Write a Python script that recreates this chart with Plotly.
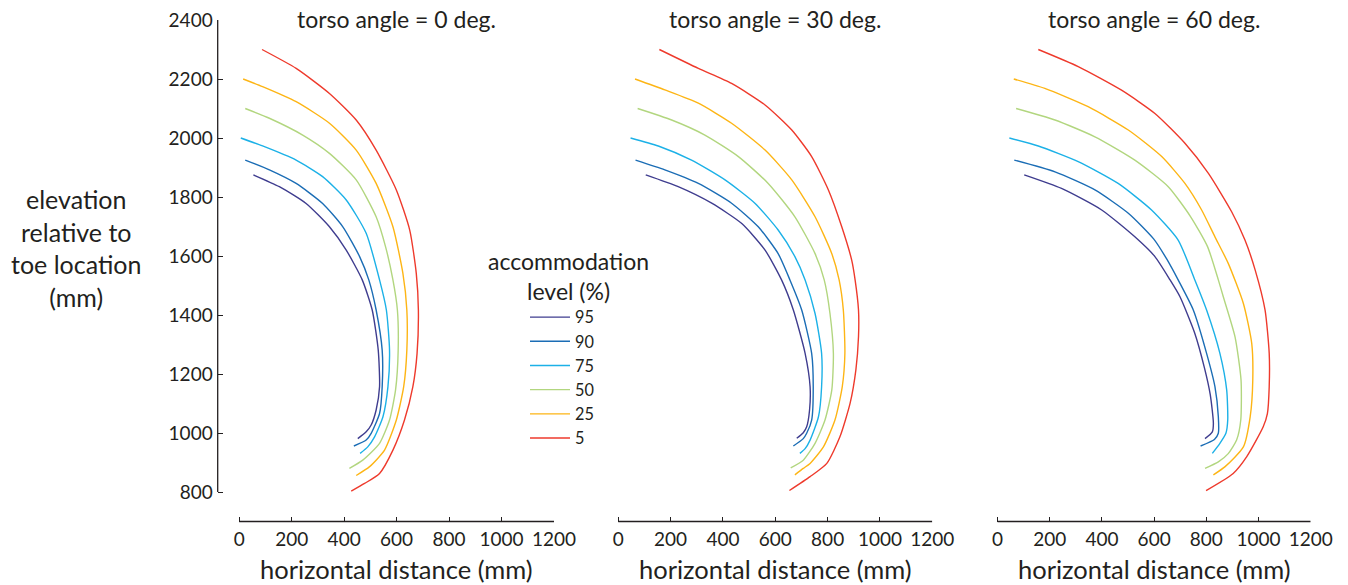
import plotly.graph_objects as go

# ---------------- data (mm) ----------------
levels = ["95", "90", "75", "50", "25", "5"]
colors = ["#3f3d8f", "#1b6db5", "#1cb1e7", "#b2d67f", "#fdb515", "#ee3a2c"]
panel_titles = ["torso angle = 0 deg.", "torso angle = 30 deg.", "torso angle = 60 deg."]
x_ticks = [0, 200, 400, 600, 800, 1000, 1200]
y_ticks = [800, 1000, 1200, 1400, 1600, 1800, 2000, 2200, 2400]

# torso angle = 0 deg.
a0_p95_x = [54, 153, 255, 344, 408, 469, 507, 530, 535, 522, 503, 484, 452]
a0_p95_y = [1875, 1835, 1778, 1699, 1620, 1519, 1417, 1281, 1157, 1078, 1027, 1004, 981]
a0_p90_x = [23, 115, 217, 318, 395, 459, 494, 522, 545, 545, 535, 503, 484, 437]
a0_p90_y = [1925, 1892, 1846, 1778, 1699, 1598, 1519, 1417, 1281, 1157, 1066, 999, 976, 956]
a0_p75_x = [6, 89, 217, 318, 408, 484, 535, 561, 573, 567, 548, 516, 490, 461]
a0_p75_y = [2000, 1973, 1925, 1869, 1790, 1677, 1519, 1417, 1281, 1157, 1055, 987, 953, 931]
a0_p50_x = [23, 115, 242, 344, 446, 522, 558, 586, 603, 606, 596, 573, 535, 471, 420]
a0_p50_y = [2100, 2067, 2010, 1948, 1858, 1733, 1631, 1519, 1417, 1281, 1146, 1044, 965, 908, 880]
a0_p25_x = [15, 89, 217, 344, 446, 522, 586, 624, 639, 639, 627, 599, 554, 497, 446]
a0_p25_y = [2200, 2174, 2123, 2050, 1959, 1846, 1699, 1541, 1417, 1281, 1157, 1044, 942, 886, 856]
a0_p5_x = [87, 217, 344, 446, 522, 599, 650, 675, 683, 678, 662, 630, 586, 535, 478, 427]
a0_p5_y = [2300, 2236, 2151, 2061, 1959, 1824, 1688, 1541, 1417, 1270, 1157, 1044, 942, 863, 829, 803]

# torso angle = 30 deg.
a30_p95_x = [105, 229, 357, 472, 561, 624, 669, 714, 733, 731, 720, 707, 682]
a30_p95_y = [1875, 1835, 1779, 1710, 1620, 1519, 1417, 1270, 1157, 1078, 1021, 1001, 982]
a30_p90_x = [66, 178, 306, 433, 535, 611, 656, 701, 739, 745, 739, 720, 707, 669]
a30_p90_y = [1925, 1892, 1846, 1779, 1699, 1608, 1519, 1417, 1270, 1157, 1044, 999, 981, 956]
a30_p75_x = [47, 153, 280, 408, 522, 611, 675, 714, 752, 777, 777, 765, 733, 714, 694]
a30_p75_y = [2000, 1973, 1925, 1858, 1779, 1688, 1598, 1519, 1405, 1270, 1157, 1055, 976, 947, 931]
a30_p50_x = [74, 204, 331, 459, 573, 675, 752, 787, 809, 822, 816, 790, 752, 707, 659]
a30_p50_y = [2100, 2061, 2010, 1937, 1846, 1733, 1608, 1519, 1405, 1270, 1146, 1044, 965, 908, 882]
a30_p25_x = [64, 178, 306, 433, 561, 663, 752, 816, 844, 860, 866, 856, 828, 784, 733, 707, 675]
a30_p25_y = [2200, 2163, 2118, 2050, 1959, 1858, 1733, 1608, 1519, 1417, 1270, 1157, 1044, 953, 897, 880, 858]
a30_p5_x = [157, 306, 433, 561, 663, 739, 803, 854, 892, 905, 918, 918, 908, 886, 847, 797, 733, 654]
a30_p5_y = [2300, 2236, 2185, 2112, 2027, 1937, 1824, 1699, 1586, 1519, 1417, 1326, 1214, 1101, 987, 897, 852, 805]

# torso angle = 60 deg.
a60_p95_x = [102, 245, 399, 526, 603, 661, 699, 755, 793, 815, 827, 823, 795]
a60_p95_y = [1875, 1829, 1756, 1665, 1598, 1519, 1462, 1340, 1220, 1130, 1033, 1004, 981]
a60_p90_x = [64, 220, 373, 501, 598, 648, 692, 750, 801, 833, 846, 846, 831, 778]
a60_p90_y = [1925, 1885, 1824, 1745, 1658, 1590, 1519, 1417, 1270, 1157, 1055, 999, 978, 956]
a60_p75_x = [45, 156, 309, 462, 590, 692, 756, 801, 852, 878, 882, 875, 852, 823]
a60_p75_y = [2000, 1973, 1920, 1846, 1756, 1654, 1519, 1417, 1270, 1146, 1044, 999, 965, 931]
a60_p50_x = [71, 220, 373, 526, 654, 740, 805, 846, 865, 910, 933, 932, 916, 884, 846, 795]
a60_p50_y = [2100, 2061, 2004, 1925, 1835, 1733, 1631, 1519, 1462, 1326, 1180, 1044, 976, 930, 902, 880]
a60_p25_x = [62, 181, 347, 501, 629, 718, 782, 833, 884, 942, 974, 978, 968, 942, 872, 827]
a60_p25_y = [2200, 2168, 2106, 2027, 1937, 1846, 1756, 1665, 1575, 1439, 1304, 1180, 1055, 953, 886, 858]
a60_p5_x = [156, 309, 475, 603, 718, 808, 897, 948, 987, 1025, 1041, 1041, 1034, 1018, 955, 903, 799]
a60_p5_y = [2300, 2242, 2162, 2083, 1982, 1880, 1750, 1654, 1553, 1417, 1270, 1157, 1066, 1021, 920, 863, 805]

panels = [
    [(a0_p95_x, a0_p95_y), (a0_p90_x, a0_p90_y), (a0_p75_x, a0_p75_y),
     (a0_p50_x, a0_p50_y), (a0_p25_x, a0_p25_y), (a0_p5_x, a0_p5_y)],
    [(a30_p95_x, a30_p95_y), (a30_p90_x, a30_p90_y), (a30_p75_x, a30_p75_y),
     (a30_p50_x, a30_p50_y), (a30_p25_x, a30_p25_y), (a30_p5_x, a30_p5_y)],
    [(a60_p95_x, a60_p95_y), (a60_p90_x, a60_p90_y), (a60_p75_x, a60_p75_y),
     (a60_p50_x, a60_p50_y), (a60_p25_x, a60_p25_y), (a60_p5_x, a60_p5_y)],
]

# ---------------- figure ----------------
W, H = 1348, 585
FONT = "Lato"
TXT = "#231f20"


def fx(px):
    return px / W


def fy(py):
    return 1 - py / H


fig = go.Figure()

# pixel layout of the three panels (left edge of plot area, x of 1200 mm)
x_domains_px = [(217.7, 554.0), (596.8, 932.3), (976.2, 1310.7)]
y_top_px, y_bot_px = 20.0, 521.5

for p, series in enumerate(panels):
    xa = "x" if p == 0 else f"x{p+1}"
    ya = "y" if p == 0 else f"y{p+1}"
    for i, (xs, ys) in enumerate(series):
        fig.add_trace(go.Scatter(
            x=xs, y=ys, mode="lines", xaxis=xa, yaxis=ya,
            name=levels[i], legendgroup=levels[i], showlegend=(p == 0),
            line=dict(color=colors[i], width=1.4, shape="spline", smoothing=0.6),
            hoverinfo="x+y+name",
        ))

layout = dict(
    width=W, height=H,
    margin=dict(l=0, r=0, t=0, b=0, autoexpand=False),
    paper_bgcolor="white", plot_bgcolor="white",
    font=dict(family=FONT, color=TXT, size=20),
    showlegend=True,
    legend=dict(
        x=fx(525), y=fy(300), xanchor="left", yanchor="top",
        font=dict(family=FONT, size=16.3, color=TXT),
        bgcolor="rgba(0,0,0,0)", borderwidth=0,
        tracegroupgap=0, itemwidth=40,
    ),
)

for p in range(3):
    xk = "xaxis" if p == 0 else f"xaxis{p+1}"
    yk = "yaxis" if p == 0 else f"yaxis{p+1}"
    x0, x1 = x_domains_px[p]
    layout[xk] = dict(
        domain=[fx(x0), fx(x1)], range=[-82, 1200], automargin=False,
        anchor="y" if p == 0 else f"y{p+1}",
        showgrid=False, zeroline=False, showline=False,
        ticks="inside", ticklen=5, tickwidth=1.2, tickcolor=TXT,
        tickvals=x_ticks, ticktext=[str(v) for v in x_ticks],
        tickfont=dict(family=FONT, size=19, color=TXT),
        ticklabelstandoff=4, ticklabeloverflow="allow",
        fixedrange=True,
    )
    layout[yk] = dict(
        domain=[fy(y_bot_px), fy(y_top_px)], range=[700, 2400], automargin=False,
        anchor="x" if p == 0 else f"x{p+1}",
        showgrid=False, zeroline=False, showline=False,
        ticks="inside" if p == 0 else "", ticklen=5, tickwidth=1.2, tickcolor=TXT,
        tickvals=y_ticks, ticktext=[str(v) for v in y_ticks],
        showticklabels=(p == 0),
        tickfont=dict(family=FONT, size=19, color=TXT),
        ticklabelstandoff=4, ticklabeloverflow="allow",
        fixedrange=True,
    )

fig.update_layout(**layout)

shapes = []
annotations = []
for p in range(3):
    xr = "x" if p == 0 else f"x{p+1}"
    ydr = "y domain" if p == 0 else f"y{p+1} domain"
    # offset x-axis line from 0 to 1200 mm
    shapes.append(dict(type="line", xref=xr, yref=ydr, x0=0, x1=1200, y0=0, y1=0,
                       line=dict(color=TXT, width=1.3)))
    annotations.append(dict(text=panel_titles[p], xref=xr, yref="paper", x=600, y=fy(19.5),
                            xanchor="center", yanchor="middle", showarrow=False,
                            font=dict(family=FONT, size=23, color=TXT)))
    annotations.append(dict(text="horizontal distance (mm)", xref=xr, yref="paper", x=600,
                            y=fy(569), xanchor="center", yanchor="middle", showarrow=False,
                            font=dict(family=FONT, size=25.5, color=TXT)))

# offset y-axis line from 800 to 2400 mm
shapes.append(dict(type="line", xref="x domain", yref="y", x0=0, x1=0, y0=800, y1=2400,
                   line=dict(color=TXT, width=1.3)))

annotations.append(dict(text="elevation<br>relative to<br>toe location<br>(mm)",
                        xref="paper", yref="paper", x=fx(76), y=fy(247.5),
                        xanchor="center", yanchor="middle", showarrow=False, align="center",
                        font=dict(family=FONT, size=25, color=TXT)))
annotations.append(dict(text="accommodation<br>level (%)",
                        xref="paper", yref="paper", x=fx(568), y=fy(276),
                        xanchor="center", yanchor="middle", showarrow=False, align="center",
                        font=dict(family=FONT, size=23, color=TXT)))

fig.update_layout(shapes=shapes, annotations=annotations)

# remove the browser's default 8px body margin so the figure fills the window
fig.write_html("out.html",
               config={"displayModeBar": False},
               post_script="document.body.style.margin='0';document.body.style.overflow='hidden';")
